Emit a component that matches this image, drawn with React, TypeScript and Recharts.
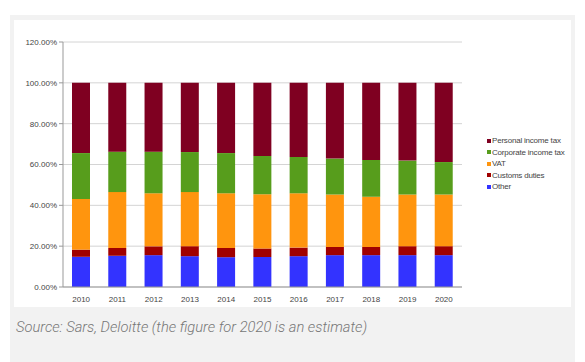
import React from "react";
import { BarChart, Bar, XAxis, YAxis, CartesianGrid } from "recharts";

// shares of total tax revenue, per year (percent of total)
const years = ["2010", "2011", "2012", "2013", "2014", "2015", "2016", "2017", "2018", "2019", "2020"];
const other = [14.8, 15.3, 15.6, 15.1, 14.6, 14.7, 15.1, 15.6, 15.6, 15.6, 15.6];
const customs = [3.5, 3.8, 4.3, 4.9, 4.5, 4.1, 4.2, 4.0, 4.0, 4.4, 4.4];
const vat = [24.8, 27.4, 26.0, 26.5, 26.8, 26.6, 26.6, 25.7, 24.6, 25.3, 25.3];
const corporate = [22.5, 19.8, 20.4, 19.6, 19.7, 18.8, 17.8, 17.6, 18.0, 16.6, 15.9];
const personal = years.map((_, i) => +(100 - other[i] - customs[i] - vat[i] - corporate[i]).toFixed(1));

const yTicks = [0, 20, 40, 60, 80, 100, 120];
const sepTicks = years.map((_, i) => i).concat([years.length]);

const series = [
  { key: "personal", label: "Personal income tax", color: "#7f0021" },
  { key: "corporate", label: "Corporate income tax", color: "#579d1c" },
  { key: "vat", label: "VAT", color: "#ff950e" },
  { key: "customs", label: "Customs duties", color: "#a00000" },
  { key: "other", label: "Other", color: "#3333ff" },
];

const data = years.map((year, i) => ({
  year,
  other: other[i],
  customs: customs[i],
  vat: vat[i],
  corporate: corporate[i],
  personal: personal[i],
}));

const tickStyle = { fill: "#444", fontSize: 8, fontFamily: "Liberation Sans, Arial, sans-serif" };

export default function App() {
  return (
    <div style={{ position: "absolute", left: 0, top: 0, width: 585, height: 362, background: "#fff" }}>
      <div style={{ position: "absolute", left: 10, top: 15, width: 565, height: 347, background: "#f2f2f2" }} />
      <div style={{ position: "absolute", left: 14, top: 20, width: 557, height: 287, background: "#fff" }} />
      <div style={{ position: "absolute", left: 0, top: 0 }}>
        <BarChart
          width={585}
          height={310}
          data={data}
          margin={{ top: 42, right: 123, left: 0, bottom: 5 }}
          barSize={18}
        >
          <CartesianGrid vertical={false} stroke="#d4d4d4" yAxisId="left" />
          <XAxis
            xAxisId="sep"
            type="number"
            domain={[0, years.length]}
            ticks={sepTicks}
            tick={false}
            tickSize={4}
            height={0}
            axisLine={false}
            tickLine={{ stroke: "#999" }}
          />
          <XAxis
            xAxisId="cat"
            dataKey="year"
            height={18}
            tickLine={false}
            axisLine={{ stroke: "#999" }}
            tick={tickStyle}
            tickMargin={3}
            interval={0}
          />
          <YAxis
            yAxisId="left"
            width={63}
            domain={[0, 120]}
            ticks={yTicks}
            tickFormatter={(v) => `${v.toFixed(2)}%`}
            tick={tickStyle}
            tickSize={4}
            tickMargin={2}
            axisLine={{ stroke: "#999" }}
            tickLine={{ stroke: "#999" }}
          />
          <YAxis
            yAxisId="right"
            orientation="right"
            width={0}
            domain={[0, 120]}
            tick={false}
            tickLine={false}
            axisLine={{ stroke: "#d4d4d4" }}
          />
          {[...series].reverse().map((s) => (
            <Bar
              key={s.key}
              dataKey={s.key}
              name={s.label}
              stackId="a"
              xAxisId="cat"
              yAxisId="left"
              fill={s.color}
              isAnimationActive={false}
            />
          ))}
        </BarChart>
      </div>
      <div
        style={{
          position: "absolute",
          left: 487,
          top: 135,
          fontFamily: "Liberation Sans, Arial, sans-serif",
          fontSize: 8,
          color: "#444",
          lineHeight: "11.5px",
          letterSpacing: -0.2,
        }}
      >
        {series.map((s) => (
          <div key={s.key} style={{ display: "flex", alignItems: "center", whiteSpace: "nowrap" }}>
            <span style={{ display: "inline-block", width: 4, height: 4, background: s.color, marginRight: 1 }} />
            {s.label}
          </div>
        ))}
      </div>
      <div
        style={{
          position: "absolute",
          left: 16,
          top: 318,
          fontFamily: "Roboto, sans-serif",
          fontStyle: "italic",
          fontWeight: 300,
          fontSize: 14.7,
          color: "#777",
          whiteSpace: "nowrap",
        }}
      >
        Source: Sars, Deloitte (the figure for 2020 is an estimate)
      </div>
    </div>
  );
}
